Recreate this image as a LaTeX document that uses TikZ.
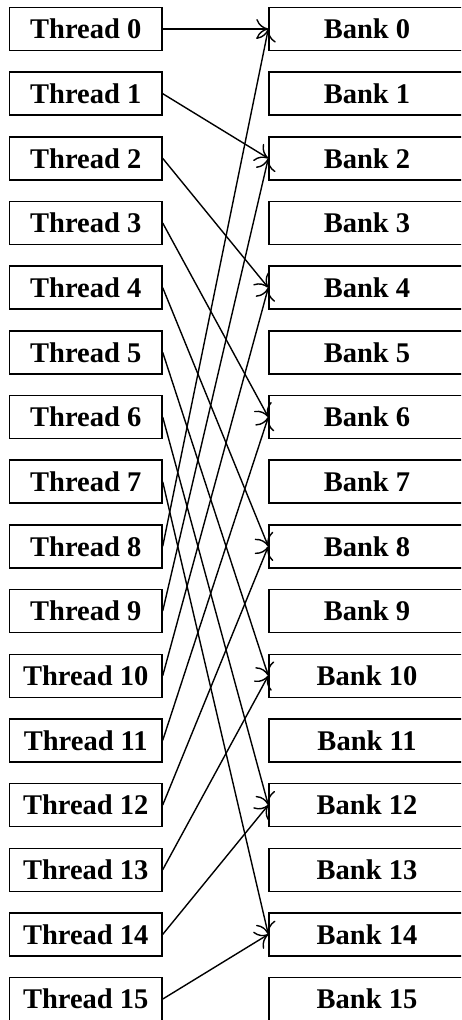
\documentclass[tikz,border=0pt]{standalone}
\usepackage{fontspec}
\setmainfont{Liberation Serif}
\usetikzlibrary{arrows.meta}
\begin{document}
\begin{tikzpicture}[x=1pt,y=1pt,
  box/.style={draw, line width=1.4pt, inner sep=0pt, minimum height=43pt, font=\fontsize{28.5}{28.5}\selectfont\bfseries},
  thr/.style={box, minimum width=152.5pt},
  bank/.style={box, minimum width=196pt},
  conn/.style={line width=1.4pt, -{Computer Modern Rightarrow[length=12pt,width=20pt,line width=1.4pt]}}]
\useasboundingbox (0,0) rectangle (461,-1020);
\clip (0,0) rectangle (461,-1020);
\foreach \i in {0,...,15} {
  \node[thr]  (t\i) at (85.75, {-(29+64.67*\i)}) {Thread \i};
  \node[bank] (b\i) at (367,   {-(29+64.67*\i)}) {Bank \i};
}
\foreach \i in {0,...,15} {
  \pgfmathtruncatemacro{\j}{mod(2*\i,16)}
  \draw[conn] (t\i.east) -- (b\j.west);
}
\end{tikzpicture}
\end{document}
